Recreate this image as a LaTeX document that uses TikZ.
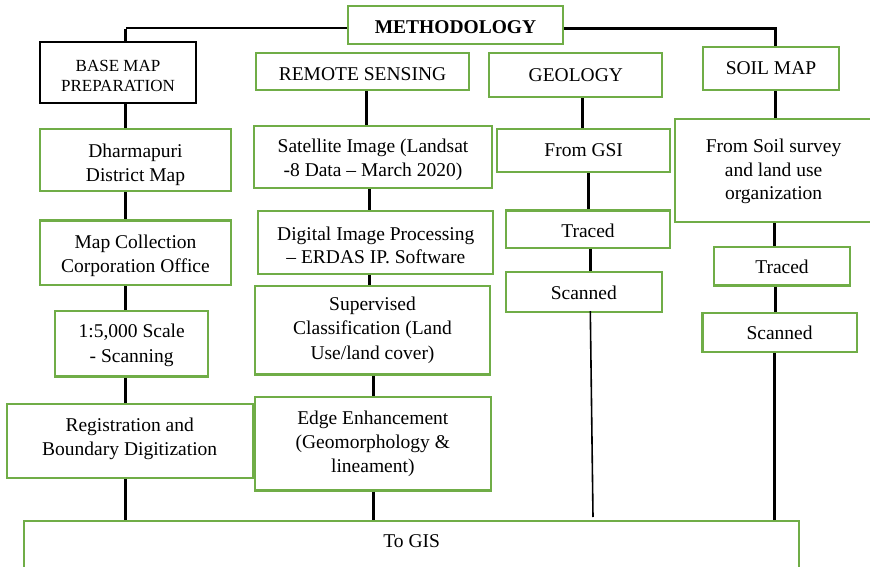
\documentclass[tikz,border=0pt]{standalone}
\usepackage{fontspec}
\setmainfont{Liberation Serif}
\definecolor{boxgreen}{RGB}{112,173,71}
% centred lines whose first baseline is the box baseline
\newcommand{\boxlines}[1]{\begin{tabular}[t]{@{}c@{}}#1\end{tabular}}
\begin{document}
\begin{tikzpicture}[x=1pt,y=-1pt,
  gbox/.style={draw=boxgreen,line width=2.2pt,inner sep=0pt,anchor=north,
    font=\fontsize{19.5}{24}\selectfont},
  kbox/.style={draw=black,line width=2.4pt,inner sep=0pt,anchor=north,
    font=\fontsize{17}{20.5}\selectfont},
  dims/.style n args={3}{minimum width=#1pt,text height=#2pt,text depth=#3pt},
  link/.style={line width=3pt,black},
  thin link/.style={line width=1.6pt,black}]
\useasboundingbox (0,0) rectangle (870,567);

% heading
\node[gbox,dims={215}{27.3}{10.7},font=\fontsize{19.5}{24}\selectfont\bfseries] (meth) at (455.5,5) {METHODOLOGY};

% column headings
\node[kbox,dims={156}{29}{31.7}] (base) at (118,41) {\boxlines{BASE MAP\\PREPARATION}};
\node[gbox,dims={213}{26.7}{10.3}] (rs) at (362.5,52.3) {REMOTE SENSING};
\node[gbox,dims={173}{27.7}{16}] (geo) at (575.8,52.3) {GEOLOGY};
\node[gbox,dims={136.6}{27.7}{15.9}] (soil) at (771,45.7) {SOIL MAP};

% base map column
\node[gbox,dims={191}{28.7}{33.3}] (b1) at (135.5,128) {\boxlines{Dharmapuri\\District Map}};
\node[gbox,dims={191}{28}{36.7}] (b2) at (135.5,219.3) {\boxlines{Map Collection\\Corporation Office}};
\node[gbox,dims={153.3}{26.7}{38.6},font=\fontsize{19.5}{25}\selectfont] (b3) at (131.7,310) {\boxlines{1:5,000 Scale\\- Scanning}};
\node[gbox,dims={246}{27.3}{46.7}] (b4) at (129.7,402.7) {\boxlines{Registration and\\Boundary Digitization}};

% remote sensing column
\node[gbox,dims={238}{26.7}{35.3}] (r1) at (373,125) {\boxlines{Satellite Image (Landsat\\-8 Data -- March 2020)}};
\node[gbox,dims={235}{29}{33.7},font=\fontsize{19.5}{23}\selectfont] (r2) at (375.8,210) {\boxlines{Digital Image Processing\\-- ERDAS IP. Software}};
\node[gbox,dims={235}{24.3}{64},font=\fontsize{19.5}{24.5}\selectfont] (r3) at (372.5,285) {\boxlines{Supervised\\Classification (Land\\Use/land cover)}};
\node[gbox,dims={235.7}{27.3}{66}] (r4) at (372.8,396) {\boxlines{Edge Enhancement\\(Geomorphology \&\\lineament)}};

% geology column
\node[gbox,dims={172.7}{27.4}{15}] (g1) at (583.7,128.3) {From GSI};
\node[gbox,dims={164}{27.4}{10}] (g2) at (588,209.3) {Traced};
\node[gbox,dims={155.7}{27.3}{12.7}] (g3) at (583.8,271) {Scanned};

% soil map column
\node[gbox,dims={196.7}{33.4}{69.3},font=\fontsize{19.5}{23.3}\selectfont] (s1) at (773.6,118.3) {\boxlines{From Soil survey\\and land use\\organization}};
\node[gbox,dims={136}{26.7}{11.6}] (s2) at (782,246) {Traced};
\node[gbox,dims={154.2}{26.7}{12.3}] (s3) at (779.6,311.7) {Scanned};

% common output
\node[gbox,dims={775.3}{26}{20.5}] (gis) at (411.7,520) {To GIS};

% branches from the heading
\coordinate (lcorner) at (125.5,28.3);
\coordinate (rcorner) at (775,29);
\draw[thin link] (meth.west |- lcorner) -- (lcorner);
\draw[link] ([yshift=-0.8pt]lcorner) -- (base.north -| lcorner);
\draw[link] (meth.east |- rcorner) -- ([xshift=1.5pt]rcorner);
\draw[link] (rcorner) -- (soil.north -| rcorner);

% base map chain
\foreach \a/\b in {base/b1,b1/b2,b2/b3,b3/b4,b4/gis}
  \draw[link] (\a.south -| 125.5,0) -- (\b.north -| 125.5,0);

% remote sensing chain
\foreach \a/\b/\x in {rs/r1/366.7,r1/r2/369.5,r2/r3/369,r3/r4/373,r4/gis/373}
  \draw[link] (\a.south -| \x,0) -- (\b.north -| \x,0);

% geology chain
\foreach \a/\b/\x in {geo/g1/582.5,g1/g2/588.3,g2/g3/590}
  \draw[link] (\a.south -| \x,0) -- (\b.north -| \x,0);
\coordinate (gfoot) at (593,517);
\draw[thin link] ([yshift=2pt]g3.south -| 590.3,0) -- (gfoot);

% soil map chain
\foreach \a/\b/\x in {soil/s1/775.5,s1/s2/774.3,s2/s3/775,s3/gis/774.3}
  \draw[link] (\a.south -| \x,0) -- (\b.north -| \x,0);
\end{tikzpicture}
\end{document}
